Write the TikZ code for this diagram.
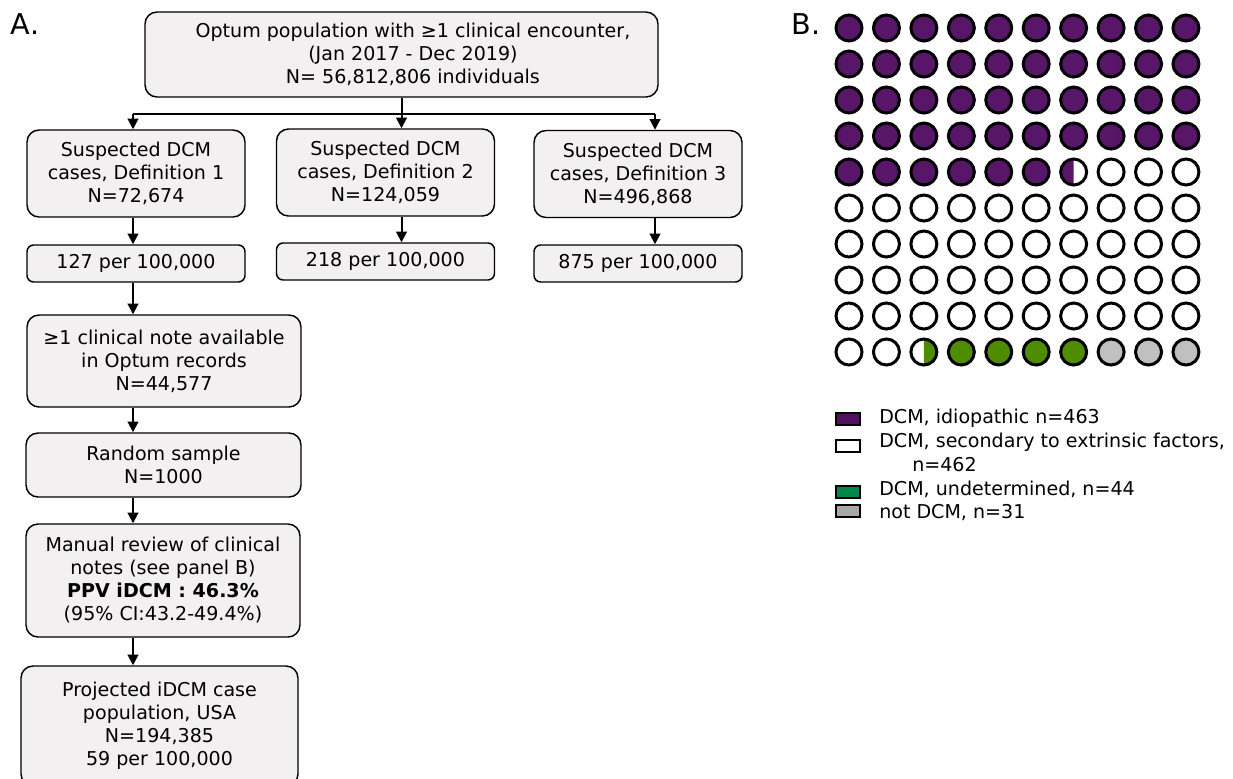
\documentclass[tikz,border=0pt]{standalone}
\usepackage{fontspec}
\setmainfont{DejaVu Sans}
\usetikzlibrary{arrows.meta,calc}

\definecolor{boxgray}{RGB}{242,240,241}
\definecolor{idio}{RGB}{87,22,104}
\definecolor{undet}{RGB}{80,140,0}
\definecolor{notdcm}{RGB}{192,192,192}
\definecolor{legidio}{RGB}{80,18,95}
\definecolor{legundet}{RGB}{0,136,74}
\definecolor{legnot}{RGB}{168,168,168}

\newcommand{\flowfont}{\fontsize{14.3}{17.25}\selectfont}

\tikzset{
  flowbox/.style={draw,line width=1.1pt,rounded corners=9pt,fill=boxgray,
    align=center,inner sep=0pt,font=\flowfont},
  ratebox/.style={flowbox,rounded corners=5pt,minimum width=163.5pt,minimum height=27.75pt},
  defbox/.style={flowbox,minimum width=163.5pt,minimum height=65.25pt},
  panel/.style={font=\fontsize{21.5}{24}\selectfont,inner sep=0pt},
  legkey/.style={draw,line width=1.1pt,minimum width=18pt,minimum height=9pt,inner sep=0pt},
  legtext/.style={anchor=west,inner sep=0pt,font=\flowfont,text height=0.75em,text depth=0.22em},
  flowline/.style={line width=1.5pt}
}

\begin{document}
\begin{tikzpicture}[x=0.75pt,y=-0.75pt,>={Triangle[length=8pt,width=8pt]}]
\useasboundingbox (0,0) rectangle (1233,779);

\node[panel] (lblA) at (25,24) {A.};
\node[panel] (lblB) at (806,24) {B.};

% flow chart
\node[flowbox,minimum width=384.75pt,minimum height=63.75pt] (pop) at (401.5,54.5)
  {\hspace*{1.2em}Optum population with ≥1 clinical encounter,\\\hspace*{1.2em}(Jan 2017 - Dec 2019)\\\hspace*{1.2em}N= 56,812,806 individuals};

\node[defbox] (def1) at (136,173.5) {Suspected DCM\\cases, Definition 1\\N=72,674};
\node[defbox] (def2) at (385.5,172.5) {Suspected DCM\\cases, Definition 2\\N=124,059};
\node[defbox,minimum width=156pt] (def3) at (638,174) {Suspected DCM\\cases, Definition 3\\N=496,868};

\node[ratebox] (rate1) at (136,263.5) {127 per 100,000};
\node[ratebox] (rate2) at (385.5,261.5) {218 per 100,000};
\node[ratebox,minimum width=156pt] (rate3) at (638,263.5) {875 per 100,000};

\node[flowbox,minimum width=205.5pt,minimum height=69pt] (note) at (164,361)
  {≥1 clinical note available\\in Optum records\\N=44,577};
\node[flowbox,minimum width=206.25pt,minimum height=48pt] (sample) at (163.5,465)
  {Random sample\\N=1000};
\node[flowbox,minimum width=205.5pt,minimum height=84.75pt] (review) at (163,580.5)
  {Manual review of clinical\\notes (see panel B)\\\textbf{PPV iDCM : 46.3\%}\\(95\% CI:43.2-49.4\%)};
\node[flowbox,minimum width=207.75pt,minimum height=90pt] (proj) at (159.5,726)
  {Projected iDCM case\\population, USA\\N=194,385\\59 per 100,000};

\coordinate (bar) at ($(pop.south)+(0,16)$);
\coordinate (spine) at (133,0);
\coordinate (in3) at ($(def3.north)+(17,0)$);

\draw[flowline] (pop.south) -- (bar);
\draw[flowline] (bar -| spine) -- (bar -| in3);
\draw[flowline,->] (bar -| spine) -- (spine |- def1.north);
\draw[flowline,->] (bar) -- (bar |- def2.north);
\draw[flowline,->] (bar -| in3) -- (in3);

\draw[flowline,->] (spine |- def1.south) -- (spine |- rate1.north);
\draw[flowline,->] (bar |- def2.south) -- (bar |- rate2.north);
\draw[flowline,->] (in3 |- def3.south) -- (in3 |- rate3.north);

\draw[flowline,->] (spine |- rate1.south) -- (spine |- note.north);
\draw[flowline,->] (spine |- note.south) -- (spine |- sample.north);
\draw[flowline,->] (spine |- sample.south) -- (spine |- review.north);
\draw[flowline,->] (spine |- review.south) -- (spine |- proj.north);

% waffle chart, 10 x 10
\foreach \k in {0,...,99}{
  \pgfmathtruncatemacro{\wrow}{div(\k,10)}
  \pgfmathtruncatemacro{\wcol}{mod(\k,10)}
  \coordinate (w\k) at (849+37.44*\wcol,28+36*\wrow);
  \fill[white] (w\k) circle (13);
  \ifnum\k<46 \fill[idio] (w\k) circle (13);\fi
  \ifnum\k=46 \fill[idio] (w\k) ++(0,-13) arc (270:90:13) -- cycle;\fi
  \ifnum\k=92 \fill[undet] (w\k) ++(0,-13) arc (-90:90:13) -- cycle;\fi
  \ifnum\k>92 \ifnum\k<97 \fill[undet] (w\k) circle (13);\fi\fi
  \ifnum\k>96 \fill[notdcm] (w\k) circle (13);\fi
  \draw[line width=2.25pt] (w\k) circle (13);
}

% legend
\node[legkey,fill=legidio] (k1) at (848,419) {};
\node[legkey,fill=white] (k2) at (848,446) {};
\node[legkey,fill=legundet] (k3) at (848,492) {};
\node[legkey,fill=legnot] (k4) at (848,511) {};
\node[legtext] (t1) at (879,420) {DCM, idiopathic n=463};
\node[legtext] (t2) at (879,444) {DCM, secondary to extrinsic factors,};
\node[legtext] (t2b) at (912,468) {n=462};
\node[legtext] (t3) at (879,492) {DCM, undetermined, n=44};
\node[legtext] (t4) at (879,515) {not DCM, n=31};
\end{tikzpicture}
\end{document}
